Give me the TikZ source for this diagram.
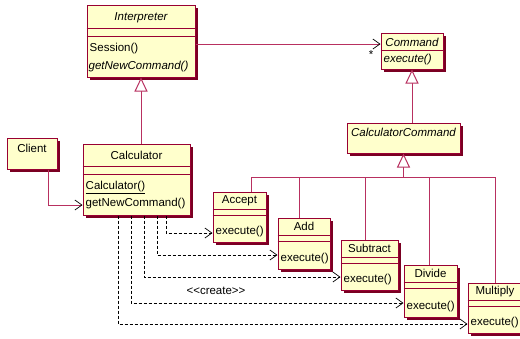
\documentclass[tikz,border=0pt]{standalone}
\usepackage{fontspec}
\setmainfont{Liberation Sans}
\usepackage{xcolor}
\usepackage{tikz}
\usetikzlibrary{arrows.meta,shadows,positioning}

\definecolor{umlfill}{HTML}{FFFFCC}
\definecolor{umlborder}{HTML}{990033}
\definecolor{umlshadow}{HTML}{7A0022}
\definecolor{umlline}{HTML}{B83060}

\tikzset{
  classbox/.style={draw=umlborder, fill=umlfill, line width=1pt, inner sep=0pt,
    general shadow={fill=umlshadow, shadow xshift=3pt, shadow yshift=-3pt}},
  divider/.style={draw=umlborder, line width=1pt},
  gline/.style={draw=umlline, line width=1pt},
  assoc/.style={gline, -{Straight Barb[length=7pt, width=10pt, color=black, line width=0.7pt]}},
  gen/.style={gline, -{Triangle[length=14pt, width=13pt, fill=white]}},
  dep/.style={draw=black, line width=0.7pt, dash pattern=on 3pt off 2pt,
    -{Straight Barb[length=7pt, width=10pt]}},
  lbl/.style={inner sep=0pt},
}

\begin{document}
\begin{tikzpicture}[x=1pt, y=-1pt, font=\fontsize{11.5}{13}\selectfont]
\useasboundingbox (0,0) rectangle (520,338);

% Interpreter
\node[classbox, minimum width=108, minimum height=72] (interp) at (141,41) {};
\draw[divider] ([yshift=-24]interp.north west) -- ([yshift=-24]interp.north east);
\draw[divider] ([yshift=-32]interp.north west) -- ([yshift=-32]interp.north east);
\node[lbl] (interpname) at ([yshift=-13]interp.north) {\itshape Interpreter};
\node[lbl, anchor=west] (session) at ([xshift=3, yshift=-44]interp.north west) {Session()};
\node[lbl, anchor=west] (interpget) at ([xshift=2, yshift=-62]interp.north west) {\itshape getNewCommand()};

% Command
\node[classbox, minimum width=62, minimum height=36] (command) at (412,51) {};
\draw[divider] ([yshift=-18]command.north west) -- ([yshift=-18]command.north east);
\node[lbl] (commandname) at ([yshift=-10]command.north) {\itshape Command};
\node[lbl, anchor=west] (commandexec) at ([xshift=3, yshift=-27]command.north west) {\itshape execute()};

% CalculatorCommand
\node[classbox, minimum width=113, minimum height=30] (calccmd) at (403.5,138) {};
\node[lbl] (calccmdname) at ([yshift=-10]calccmd.north) {\itshape CalculatorCommand};

% Client
\node[classbox, minimum width=50, minimum height=31] (client) at (32,153.5) {};
\node[lbl] (clientname) at ([yshift=-11]client.north) {Client};

% Calculator
\node[classbox, minimum width=107, minimum height=71] (calc) at (136.5,179.5) {};
\draw[divider] ([yshift=-23]calc.north west) -- ([yshift=-23]calc.north east);
\draw[divider] ([yshift=-31]calc.north west) -- ([yshift=-31]calc.north east);
\node[lbl] (calcname) at ([yshift=-12]calc.north) {Calculator};
\node[lbl, anchor=west] (calcctor) at ([xshift=3, yshift=-44]calc.north west) {\underline{Calculator()}};
\node[lbl, anchor=west] (calcget) at ([xshift=3, yshift=-60]calc.north west) {getNewCommand()};

% associations and generalizations
\coordinate (ia) at ([yshift=-3]interp.east);
\draw[assoc] (ia) -- (ia -| command.west);
\node[lbl] (mult) at (371,55) {*};
\draw[gen] (interp.south |- calc.north) -- (interp.south);
\draw[gen] (command.south |- calccmd.north) -- (command.south);
\draw[assoc] ([xshift=16]client.south) |- ([yshift=-25.5]calc.west);

\coordinate (bus) at ([yshift=-24]calccmd.south);

% concrete commands
\foreach \n/\cx/\cy/\w/\h/\drop/\src/\dst in {
    Accept/239.5/217/53/50/11.5/29.5/-16,
    Add/304/243.5/52/51/-5/20.5/-11.5,
    Subtract/369.5/265/57/50/-4.5/7.5/-12,
    Divide/430.5/291/53/52/-1.5/-5.5/-12,
    Multiply/495/308/54/50/0/-18.5/-16} {
  \node[classbox, minimum width=\w, minimum height=\h] (\n) at (\cx,\cy) {};
  \draw[gline] (bus) -| ([xshift=\drop]\n.north);
  \draw[divider] ([yshift=-18]\n.north west) -- ([yshift=-18]\n.north east);
  \draw[divider] ([yshift=-24]\n.north west) -- ([yshift=-24]\n.north east);
  \node[lbl] at ([yshift=-9]\n.north) {\n};
  \node[lbl, anchor=west] at ([xshift=3, yshift=11]\n.south west) {execute()};
  \draw[dep] ([xshift=\src]calc.south) |- ([yshift=\dst]\n.west);
}
\draw[gen] (bus) -- (calccmd.south);

\node[lbl] (create) at (216,291) {<\kern0pt<create>\kern0pt>};
\end{tikzpicture}
\end{document}
